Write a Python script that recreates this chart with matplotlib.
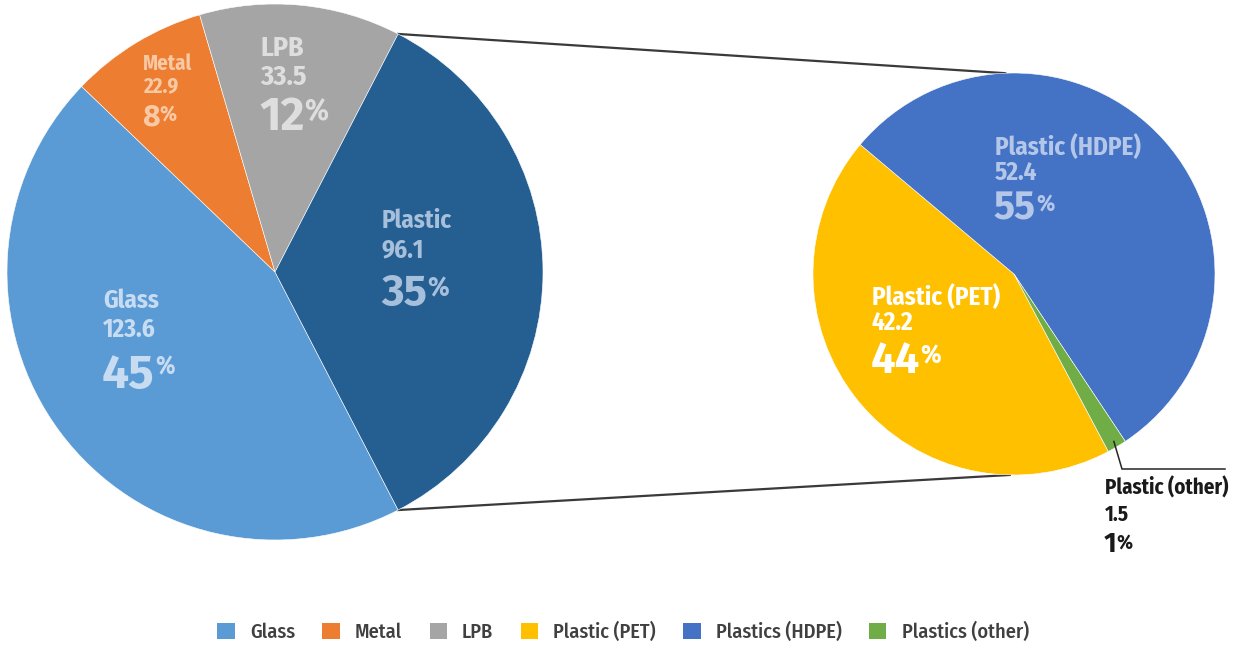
import numpy as np
import matplotlib
matplotlib.use('Agg')
import matplotlib.pyplot as plt
from matplotlib.patches import Patch

# ---- data ----
main_labels = ['Glass', 'Metal', 'LPB', 'Plastic']
main_values = [123.6, 22.9, 33.5, 96.1]
main_pct = [45, 8, 12, 35]
main_colors = ['#5b9bd5', '#ed7d31', '#a5a5a5', '#255e91']
main_text_colors = ['#c7dcf1', '#f8c9a4', '#dedede', '#a6bfdb']

plastic_labels = ['Plastic (PET)', 'Plastic (HDPE)', 'Plastic (other)']
plastic_values = [42.2, 52.4, 1.5]
plastic_pct = [44, 55, 1]
plastic_colors = ['#ffc000', '#4472c4', '#70ad47']
plastic_text_colors = ['#ffffff', '#b4c7e8', '#1a1a1a']

legend_labels = ['Glass', 'Metal', 'LPB', 'Plastic (PET)', 'Plastics (HDPE)', 'Plastics (other)']
legend_colors = main_colors[:3] + plastic_colors

# ---- layout (pixel coords, y from top of image) ----
W, H = 1237, 647
FONT = ['Fira Sans Condensed', 'DejaVu Sans']
BIG_FONT = ['Fira Sans', 'DejaVu Sans']
PT = 1.045   # cap height in px -> font size in pt for this font

# label anchor: x, name baseline, value baseline, pct baseline
main_label_pos = [(103, 308, 337, 388), (143, 70, 92, 125),
                  (260, 56, 85, 130), (382, 228, 257, 305)]
# cap heights (px): name/value, big digits, % sign
main_label_size = [(18, 33, 17), (15, 21, 15), (20, 32, 21), (18, 30, 19)]
plastic_label_pos = [(872, 305, 330, 373), (995, 155, 180, 220), (1105, 495, 521, 552)]
plastic_label_size = [(18, 30, 18), (18, 27, 16), (15, 19, 14)]

fig = plt.figure(figsize=(W / 100, H / 100), dpi=100)
ax = fig.add_axes([0, 0, 1, 1])

c1, r1 = (275, H - 272), 268
c2, r2 = (1014, H - 274), 201

# main pie: plastic wedge centred on the right hand side
plastic_ang = 360 * main_values[3] / sum(main_values)
w1, _ = ax.pie(main_values, colors=main_colors, center=c1, radius=r1,
               startangle=-plastic_ang / 2, counterclock=False,
               wedgeprops=dict(edgecolor='white', linewidth=0.4))

# breakdown pie
w2, _ = ax.pie(plastic_values, colors=plastic_colors, center=c2, radius=r2,
               startangle=298, counterclock=False,
               wedgeprops=dict(edgecolor='white', linewidth=0.4))

ax.set_xlim(0, W)
ax.set_ylim(0, H)
ax.set_aspect('equal')
ax.axis('off')

# connector lines between the pies
for a1, a2 in [(plastic_ang / 2, 92.5), (-plastic_ang / 2, -91.2)]:
    p1 = (c1[0] + r1 * np.cos(np.radians(a1)), c1[1] + r1 * np.sin(np.radians(a1)))
    p2 = (c2[0] + r2 * np.cos(np.radians(a2)), c2[1] + r2 * np.sin(np.radians(a2)))
    ax.plot([p1[0], p2[0]], [p1[1], p2[1]], color='#3a3a3a', lw=1.6, zorder=0.5)

# leader for the tiny slice
mid = np.radians((w2[2].theta1 + w2[2].theta2) / 2)
ax.plot([c2[0] + r2 * 0.97 * np.cos(mid), 1122, 1225],
        [c2[1] + r2 * 0.97 * np.sin(mid), H - 469, H - 469],
        color='#262626', lw=1.1, solid_joinstyle='miter')


def draw_label(pos, size, name, value, pct, color):
    x, yn, yv, yp = pos
    s_name, s_big, s_sign = size
    ax.text(x, H - yn, name, fontsize=s_name * PT * 0.96, weight='bold', color=color,
            family=FONT, va='baseline', ha='left')
    ax.text(x, H - yv, f'{value}', fontsize=s_name * PT * 0.96, weight='bold',
            color=color, family=FONT, va='baseline', ha='left')
    t = ax.text(x - 1, H - yp, f'{pct}', fontsize=s_big * PT, weight='bold', color=color,
                family=BIG_FONT, va='baseline', ha='left')
    # small % sign, caps aligned near the top of the digits
    ys = yp - s_big + s_sign + 2
    ax.annotate('%', xy=(1, H - ys), xycoords=(t, 'data'), xytext=(0, 0),
                textcoords='offset points', fontsize=s_sign * PT, weight='bold',
                color=color, family=FONT, va='baseline', ha='left')


for i in range(len(main_labels)):
    draw_label(main_label_pos[i], main_label_size[i], main_labels[i],
               main_values[i], main_pct[i], main_text_colors[i])
for i in range(len(plastic_labels)):
    draw_label(plastic_label_pos[i], plastic_label_size[i], plastic_labels[i],
               plastic_values[i], plastic_pct[i], plastic_text_colors[i])

# legend along the bottom
handles = [Patch(facecolor=c, edgecolor='none') for c in legend_colors]
leg = ax.legend(handles, legend_labels, loc='center', ncol=6, frameon=False,
                bbox_to_anchor=(623 / W, 1 - 632 / H), bbox_transform=fig.transFigure,
                prop=dict(family=FONT, size=14 * PT, weight='medium'),
                labelcolor='#404040',
                handlelength=0.85, handleheight=0.85, handletextpad=0.75,
                columnspacing=1.35)

fig.savefig('out.png', dpi=100)
